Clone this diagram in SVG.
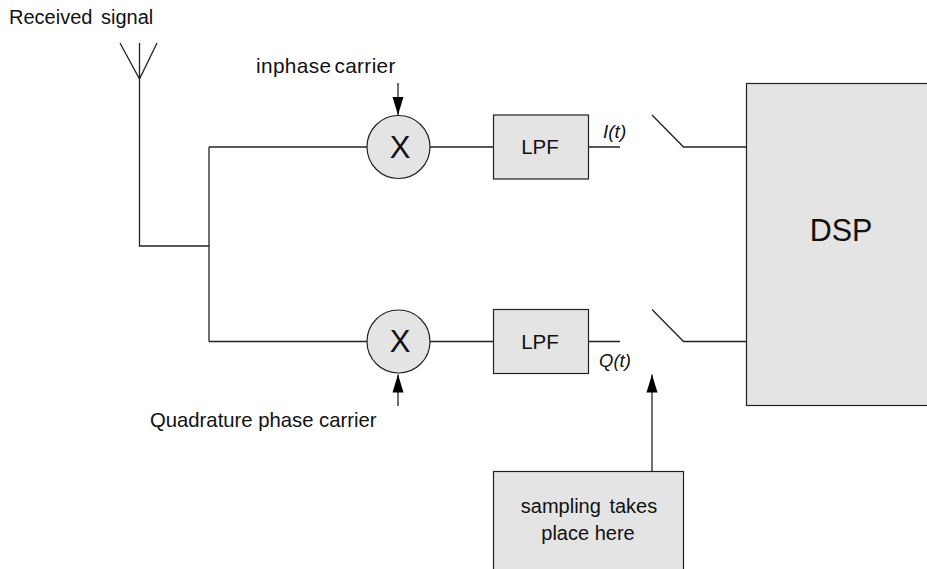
<svg xmlns="http://www.w3.org/2000/svg" width="927" height="569" viewBox="0 0 927 569">
<style>
text{font-family:"Liberation Sans",Arial,sans-serif;fill:#111}
.box{fill:#e4e4e4;stroke:#222;stroke-width:1.2}
.w{fill:none;stroke:#222;stroke-width:1.3}
.m{text-anchor:middle}
</style>
<defs>
<marker id="ah" markerUnits="userSpaceOnUse" markerWidth="19" markerHeight="13" refX="18" refY="6" orient="auto"><path d="M0 .5L18 6L0 11.500Z" fill="#000"/></marker>
</defs>
<rect width="927" height="569" fill="#fff"/>
<g id="connectors">
<path class="w" d="M120 43L139.500 79L157 43M139.500 43V246H209M209 147V341.500M209 147H367M209 341.500H367"/>
<path class="w" d="M430 147H493M430 341.500H493M588 147H620M588 341.500H620"/>
<path class="w" d="M652 115L683.500 147H746M652 309.500L683.500 341.500H746"/>
<path class="w" d="M398 83V115" marker-end="url(#ah)"/>
<path class="w" d="M398 406V374.500" marker-end="url(#ah)"/>
<path class="w" d="M652 471V374.500" marker-end="url(#ah)"/>
</g>
<g id="mixer-i"><circle class="box" cx="398.500" cy="147" r="31.500"/><text class="m" x="400" y="158" font-size="31">X</text></g>
<g id="mixer-q"><circle class="box" cx="398.500" cy="341.500" r="31.500"/><text class="m" x="400" y="352" font-size="31">X</text></g>
<g id="lpf-i"><rect class="box" x="493.500" y="115" width="95" height="64"/><text class="m" x="540" y="154" font-size="20.500">LPF</text></g>
<g id="lpf-q"><rect class="box" x="493.500" y="309.500" width="95" height="64"/><text class="m" x="540" y="349" font-size="20.500">LPF</text></g>
<g id="dsp"><rect class="box" x="746.500" y="83.500" width="190" height="322"/><text class="m" x="841" y="241" font-size="30.500">DSP</text></g>
<g id="sampling"><rect class="box" x="493.500" y="471.500" width="190" height="110"/><text class="m" x="589" y="513" font-size="20" word-spacing="3">sampling takes</text><text class="m" x="588" y="540" font-size="20">place here</text></g>
<g id="labels">
<text x="9" y="24" font-size="20" word-spacing="3">Received signal</text>
<text x="256" y="73" font-size="20.800" word-spacing="-3" letter-spacing=".35">inphase carrier</text>
<text x="150" y="427" font-size="20.300">Quadrature phase carrier</text>
<text x="603" y="138" font-size="19" font-style="italic">I(t)</text>
<text x="599" y="367" font-size="18.500" font-style="italic">Q(t)</text>
</g>
</svg>
